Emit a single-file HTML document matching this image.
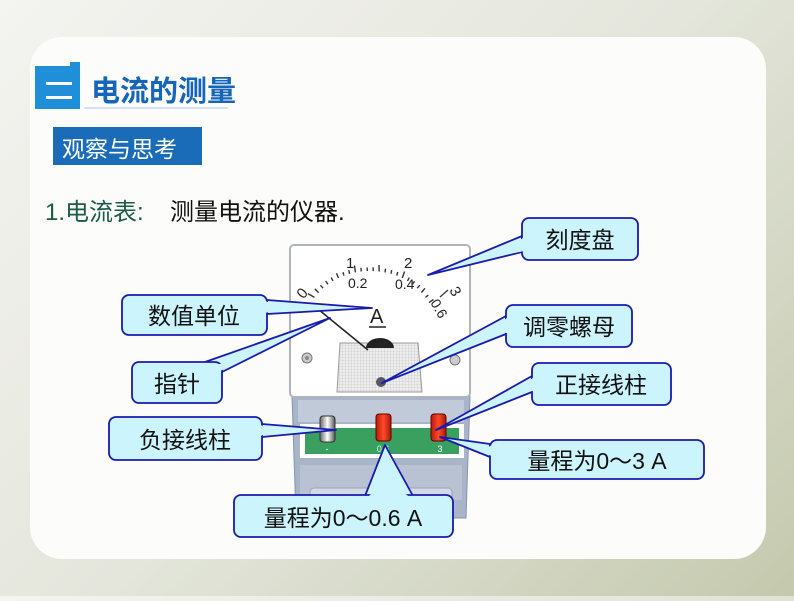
<!DOCTYPE html>
<html><head><meta charset="utf-8"><style>
html,body{margin:0;padding:0}
body{width:794px;height:596px;overflow:hidden;background:linear-gradient(135deg,#f4f4f0 0%,#e4e6dc 50%,#c4c9ad 100%);font-family:"Liberation Sans","Noto Sans CJK SC",sans-serif}
</style></head><body>
<svg width="794" height="596" viewBox="0 0 794 596" xmlns="http://www.w3.org/2000/svg" font-family="Liberation Sans, Noto Sans CJK SC, sans-serif">
<defs>
<linearGradient id="red" x1="0" x2="1"><stop offset="0" stop-color="#b81a0a"/><stop offset="0.5" stop-color="#ff4a2a"/><stop offset="1" stop-color="#a81808"/></linearGradient>
<linearGradient id="sil" x1="0" x2="1"><stop offset="0" stop-color="#666"/><stop offset="0.5" stop-color="#fff"/><stop offset="1" stop-color="#555"/></linearGradient>
<pattern id="grid" width="3" height="3" patternUnits="userSpaceOnUse"><rect width="3" height="3" fill="#eee"/><path d="M0 0H3M0 0V3" stroke="#bbb" stroke-width="0.6"/></pattern>
</defs>
<rect x="30" y="37" width="736" height="522" rx="32" fill="#fcfcfa"/>
<rect x="35" y="66" width="45" height="43" fill="#1e8fd8"/>
<rect x="70" y="62" width="10" height="8" fill="#1e8fd8"/>
<rect x="46" y="82" width="26" height="3" fill="#fff"/><rect x="46" y="96" width="26" height="3" fill="#fff"/>
<text x="91" y="101" font-size="29" font-weight="bold" fill="#1565b8">电流的测量</text>
<line x1="84" y1="108" x2="228" y2="108" stroke="#c8d8e8" stroke-width="1.5"/>
<rect x="53" y="127" width="149" height="38" fill="#1a6bb8"/>
<text x="62" y="157" font-size="23" fill="#fff">观察与思考</text>
<text x="45" y="220" font-size="24" fill="#1a5a48">1.电流表:</text>
<text x="170" y="220" font-size="24" fill="#111">测量电流的仪器.</text>
<path d="M292 396 H470 L466 518 H296 Z" fill="#a8b4c8" stroke="#8894a8"/>
<rect x="298" y="400" width="166" height="22" fill="#c0cad8"/>
<path d="M300 465 H462 V500 H300Z" fill="#b8c2d2"/>
<rect x="310" y="488" width="142" height="30" rx="4" fill="#d4dae4" stroke="#9aa4b4"/>
<rect x="300" y="424" width="164" height="34" fill="#fff"/>
<rect x="305" y="428" width="154" height="26" fill="#3aa060"/>
<text x="327" y="452" font-size="9" fill="#fff" text-anchor="middle">-</text>
<text x="383" y="452" font-size="9" fill="#cfe" text-anchor="middle">0.6</text>
<text x="440" y="452" font-size="9" fill="#fff" text-anchor="middle">3</text>
<rect x="290" y="245" width="180" height="152" rx="4" fill="#fff" stroke="#b0b4bc" stroke-width="2"/>
<g fill="#222" font-size="15">
<text x="297" y="298" transform="rotate(-50 302 292)">0</text>
<text x="346" y="268">1</text>
<text x="404" y="268">2</text>
<text x="452" y="299" transform="rotate(60 458 292)">3</text>
<text x="348" y="288" font-size="14">0.2</text>
<text x="395" y="289" font-size="14">0.4</text>
<text x="432" y="313" font-size="14" transform="rotate(60 440 306)">0.6</text>
<text x="370" y="323" font-size="20">A</text>
</g>
<line x1="369" y1="327" x2="386" y2="327" stroke="#222" stroke-width="1.4"/>
<path d="M340 343 H418 L422 392 H337 Z" fill="url(#grid)" stroke="#999"/>
<path d="M366 348 A14 10 0 0 1 394 348 Z" fill="#222"/>
<line x1="313" y1="305" x2="368" y2="350" stroke="#222" stroke-width="1.5"/>
<circle cx="381" cy="382" r="5" fill="#556"/>
<circle cx="307" cy="358" r="5" fill="#ccc" stroke="#777"/><circle cx="307" cy="358" r="2" fill="#888"/>
<circle cx="455" cy="360" r="5" fill="#ccc" stroke="#777"/>
<rect x="320" y="416" width="15" height="26" rx="3" fill="url(#sil)" stroke="#333"/>
<rect x="376" y="414" width="15" height="27" rx="3" fill="url(#red)" stroke="#600"/>
<rect x="431" y="414" width="15" height="27" rx="3" fill="url(#red)" stroke="#600"/>
<g stroke="#333" stroke-width="1.4">
<path d="M314.5 297.4L307.9 293.6M318.6 292.6L314.8 288.9M323.1 288.2L320.5 285.3M327.9 284.3L325.7 281.0M333.0 280.9L331.2 277.4M338.4 278.0L336.5 273.2M343.9 275.6L343.0 272.2M349.6 273.8L348.8 270.1M355.4 272.4L354.5 265.5M361.3 271.5L360.9 267.8M367.3 271.1L367.1 267.4M373.2 271.1L373.1 267.4M379.2 271.5L379.0 265.0M385.1 272.4L385.5 268.7M391.0 273.8L391.7 270.1M396.7 275.6L397.8 272.0M402.3 278.0L404.6 271.5M407.5 280.9L409.3 277.6M412.5 284.3L414.5 281.2M417.2 288.2L419.8 285.2M421.5 292.6L424.9 288.3M425.5 297.4L428.3 295.0M429.0 302.6L433.5 299.5"/>
</g>
<line x1="440" y1="297" x2="448" y2="290" stroke="#333" stroke-width="1.2"/>
<g stroke="#1a1ab0" stroke-width="1.8" fill="#ccf4fc" stroke-linejoin="round">
<polygon points="522,236 522,252 428,275"/>
<polygon points="267,300 267,314 372,308"/>
<polygon points="205,362 222,372 330,318"/>
<polygon points="262,424 262,437 336,430"/>
<polygon points="365,496 413,496 385,445"/>
<polygon points="506,316 506,334 382,383"/>
<polygon points="532,376 532,392 436,430"/>
<polygon points="490,444 490,457 440,437"/>
<rect x="522" y="218" width="116" height="42" rx="7"/>
<rect x="122" y="295" width="145" height="40" rx="7"/>
<rect x="132" y="362" width="90" height="41" rx="7"/>
<rect x="109" y="417" width="153" height="43" rx="7"/>
<rect x="234" y="495" width="219" height="42" rx="7"/>
<rect x="506" y="305" width="126" height="42" rx="7"/>
<rect x="532" y="363" width="139" height="42" rx="7"/>
<rect x="490" y="440" width="214" height="39" rx="7"/>
</g>
<g fill="#ccf4fc" stroke="none">
<polygon points="524,237 524,251 500,256"/>
<polygon points="265,301 265,313 285,308"/>
<polygon points="207,364 220,371 235,364"/>
<polygon points="260,425 260,436 280,430"/>
<polygon points="367,498 411,498 400,490 375,490"/>
<polygon points="508,317 508,333 490,332"/>
<polygon points="534,377 534,391 515,392"/>
<polygon points="492,445 492,456 480,452"/>
</g>
<g font-size="23" fill="#111" text-anchor="middle">
<text x="580" y="248">刻度盘</text>
<text x="194" y="324">数值单位</text>
<text x="177" y="392">指针</text>
<text x="185" y="448">负接线柱</text>
<text x="343" y="526">量程为0～0.6 A</text>
<text x="569" y="335">调零螺母</text>
<text x="601" y="393">正接线柱</text>
<text x="597" y="469">量程为0～3 A</text>
</g>
</svg>
</body></html>
